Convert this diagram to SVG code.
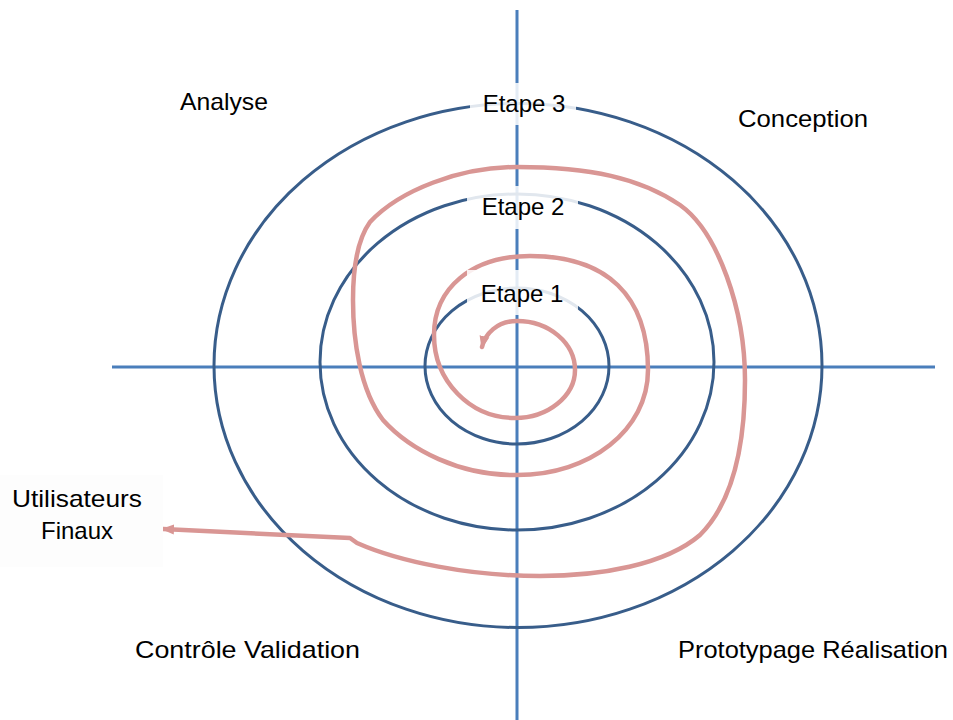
<svg xmlns="http://www.w3.org/2000/svg" width="953" height="720" viewBox="0 0 953 720">
<style>
.axis{stroke:#4A7EBB;stroke-width:3;fill:none}
.ring{stroke:#385D8A;stroke-width:3;fill:none}
.spiral{stroke:#D99694;stroke-width:4.5;fill:none;stroke-linejoin:round;stroke-linecap:round}
.lbl{font-family:"Liberation Sans",Arial,sans-serif;font-size:24px;fill:#000;text-anchor:middle}
.box{fill:#ffffff;fill-opacity:0.85}
</style>
<defs>
<marker id="arr" markerUnits="userSpaceOnUse" markerWidth="14" markerHeight="12" refX="11" refY="6" orient="auto-start-reverse">
<path d="M0,1 L13,6 L0,11 z" fill="#D99694"/>
</marker>
</defs>
<rect width="953" height="720" fill="#ffffff"/>
<g id="connectors">
<line class="axis" x1="517" y1="10" x2="517" y2="720"/>
<line class="axis" x1="112" y1="367" x2="935" y2="367"/>
</g>
<g id="rings">
<ellipse id="ring-outer" class="ring" cx="518" cy="365.5" rx="304" ry="262"/>
<ellipse id="ring-middle" class="ring" cx="517" cy="362" rx="197" ry="168"/>
<ellipse id="ring-inner" class="ring" cx="517" cy="366" rx="92" ry="78"/>
</g>
<g id="spiral-connector">
<path class="spiral" marker-start="url(#arr)" marker-end="url(#arr)" d="M482,347 C485,334 497,321 517,321 C549,321 575,343 575,370 C575,396 548,418 515,418 C470,418 434,381 434,335 C434,288 472,256 530,256 C607,256 648,296 648,370 C648,430 590,475 517,475 C460,476 410,450 383,420 C360,390 353,340 353,300 C353,270 357,240 370,222 C400,190 460,167 517,167 C590,167 640,178 680,205 C718,232 745,310 745,380 C745,440 735,500 700,535 C665,565 600,576 540,576 C470,576 400,562 357,543 L350,538 L163,529"/>
</g>
<g id="etape3">
<rect class="box" x="470" y="83" width="106" height="42"/>
<text class="lbl" x="524" y="112">Etape 3</text>
</g>
<g id="etape2">
<rect class="box" x="467" y="186" width="111" height="43"/>
<text class="lbl" x="523" y="215">Etape 2</text>
</g>
<g id="etape1">
<rect class="box" x="467" y="270" width="111" height="45"/>
<text class="lbl" x="522" y="302">Etape 1</text>
</g>
<g id="analyse">
<text class="lbl" x="224" y="110" textLength="88" lengthAdjust="spacingAndGlyphs">Analyse</text>
</g>
<g id="conception">
<text class="lbl" x="803" y="127" textLength="130" lengthAdjust="spacingAndGlyphs">Conception</text>
</g>
<g id="controle-validation">
<text class="lbl" x="247.5" y="658" textLength="225" lengthAdjust="spacingAndGlyphs">Contrôle Validation</text>
</g>
<g id="prototypage-realisation">
<text class="lbl" x="813" y="658" textLength="270" lengthAdjust="spacingAndGlyphs">Prototypage Réalisation</text>
</g>
<g id="utilisateurs-finaux">
<rect x="0" y="475" width="163" height="92" fill="#fdfdfd"/>
<text class="lbl" x="77" y="507" textLength="130" lengthAdjust="spacingAndGlyphs">Utilisateurs</text>
<text class="lbl" x="77" y="539">Finaux</text>
</g>
</svg>
